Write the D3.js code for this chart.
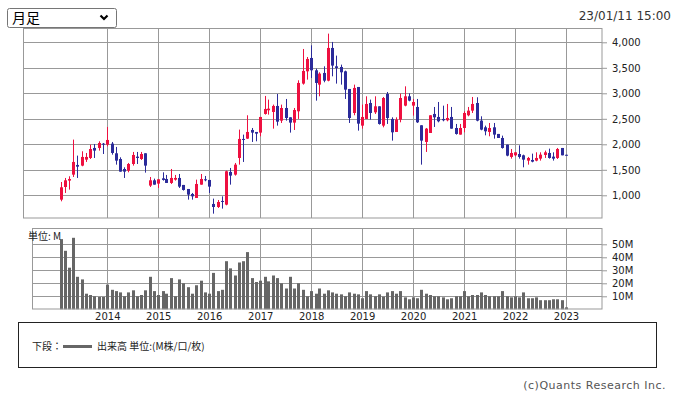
<!DOCTYPE html>
<html>
<head>
<meta charset="utf-8">
<script src="https://cdn.jsdelivr.net/npm/d3@7"></script>
<style>
  body { margin: 0; background: #fff; }
  svg { display: block; }
</style>
</head>
<body>
<svg id="chart" width="678" height="395"></svg>
<script>
// monthly candles, Feb 2013 .. Jan 2023
const months = d3.timeMonth.range(new Date(2013, 1, 1), new Date(2023, 1, 2));

const opens = [915,1163,1288,1405,1595,1582,1699,1732,1928,1928,2013,1993,2013,1824,1712,1516,1484,1614,1758,1712,
  1824,1190,1294,1229,1333,1320,1242,1307,1340,1203,1124,1026,948,1209,1314,1301,830,771,889,817,
  1458,1405,1732,2105,2111,2281,2242,2229,2595,2667,2634,2752,2464,2712,2529,2425,2647,3190,3431,3693,
  3451,3170,3399,3248,3889,3529,3516,3431,3085,2614,3124,2366,2497,2810,2627,2745,2366,2987,2497,2242,
  2484,2758,2941,2758,2732,2373,2046,2222,2595,2536,2497,2471,2536,2320,2190,2320,2569,2660,2810,2464,
  2333,2242,2333,2203,2124,1993,1752,1784,1810,1784,1680,1693,1680,1719,1791,1830,1758,1732,1928,1795];
const highs = [1261,1340,1373,2092,1778,1863,1830,1993,2006,2059,2026,2340,2046,1948,1745,1549,1634,1850,1850,1850,
  1824,1359,1327,1314,1451,1399,1516,1399,1418,1203,1124,1046,1307,1418,1379,1301,935,908,980,1484,
  1536,1634,2288,2190,2569,2320,2242,2536,2948,2876,2778,2987,2778,2889,2529,2712,3255,3869,3712,3941,
  3484,3412,3529,4170,4007,3739,3562,3444,3085,3170,3124,2778,2941,2876,2941,2745,2928,3026,2529,2529,
  2994,3137,3000,2889,2889,2373,2320,2569,2732,2830,2758,2791,2732,2399,2399,2647,2732,2928,2922,2549,
  2366,2418,2418,2203,2170,1993,1908,1843,1980,1797,1752,1817,1843,1843,1876,1915,1843,1928,1928,1795];
const lows = [882,1046,1111,1359,1340,1569,1654,1712,1732,1876,1810,1961,1797,1601,1464,1340,1451,1582,1614,1693,
  1444,1163,1209,1144,1288,1242,1222,1288,1144,1092,915,915,948,1209,1275,1046,640,752,739,804,
  1209,1386,1601,1654,2105,2046,2059,2157,2582,2582,2307,2366,2418,2464,2229,2281,2497,3170,3268,3301,
  2856,2941,3216,3235,3333,3190,3170,2889,2418,2569,2268,2307,2497,2484,2595,2386,2333,2399,2072,2242,
  2431,2745,2843,2562,2418,1601,1850,2222,2340,2431,2451,2451,2307,2190,2190,2235,2549,2614,2451,2275,
  2176,2157,2111,2124,1915,1765,1719,1765,1719,1549,1601,1647,1667,1680,1732,1719,1680,1712,1784,1785];
const closes = [1157,1294,1320,1654,1562,1752,1752,1908,1876,2026,2000,2085,1830,1680,1464,1464,1614,1791,1732,1810,
  1582,1294,1209,1314,1301,1242,1340,1340,1170,1105,1013,980,1222,1320,1301,1170,771,869,876,1471,
  1386,1601,2105,2092,2242,2229,2209,2536,2693,2699,2752,2444,2712,2516,2425,2673,3203,3438,3673,3451,
  3203,3386,3248,3889,3543,3497,3412,3072,2516,3105,2405,2536,2791,2614,2745,2399,2908,2516,2235,2484,
  2908,2941,2856,2830,2431,2072,2307,2569,2529,2451,2471,2516,2307,2203,2320,2614,2660,2791,2464,2288,
  2255,2320,2190,2124,1928,1778,1830,1843,1752,1699,1732,1660,1732,1797,1843,1732,1719,1908,1784,1785];
// volume, millions
const volumes = [54,45,32,55,25,23,12,11,10,9.5,9.5,19,15,14,13,10,13,14.6,10,11,
  14.6,25,14,11,14,12,24,10,23,20,17,12,18.5,22,13,12,28,14,15,37,
  31.5,26,36,37,44,24,21,22,25,21.5,26,24,20,16,25,16,20,15,10,14,
  12,16,12,14.6,13,12,11.5,10,13,12,11.5,8.5,14,11.5,10,11.5,9.7,13,14,12,
  14,9.2,7.7,9.2,8.5,15,12,11,10,10,9.2,7.7,8.5,10,10,14,10,11,11,13,
  11,10,10,10,14,10,9.2,10,9.2,13,8.5,8.5,9.2,7,7,7,7.7,7.7,7,1.5];

const yearTicks = [2014, 2015, 2016, 2017, 2018, 2019, 2020, 2021, 2022, 2023];
const priceTicks = [1000, 1500, 2000, 2500, 3000, 3500, 4000];
const volumeTicks = [10, 20, 30, 40, 50];

const upColor = "#ee1040";
const downColor = "#2b2b9a";
const gridColor = "#999";

const svg = d3.select("#chart");
svg.append("rect").attr("width", 678).attr("height", 395).attr("fill", "#fff");

const main = { left: 23.5, right: 602, top: 28.5, bottom: 218 };
const vol = { left: 32.5, right: 602, top: 228.5, bottom: 309 };

const x = d3.scaleTime()
  .domain([new Date(2014, 0, 1), new Date(2023, 0, 1)])
  .range([107.3, 566]);
const y = d3.scaleLinear().domain([1000, 4000]).range([195.3, 42.3]);
const yVol = d3.scaleLinear().domain([0, 50]).range([309.3, 244.3]);

const candles = months.map((m, i) => ({
  date: m, open: opens[i], high: highs[i], low: lows[i], close: closes[i], volume: volumes[i]
}));

// ---- top controls
const sel = svg.append("g");
sel.append("rect")
  .attr("x", 7.5).attr("y", 8.5).attr("width", 109).attr("height", 19).attr("rx", 2)
  .attr("fill", "#fff").attr("stroke", "#767676");
sel.append("text")
  .attr("x", 12).attr("y", 23)
  .style("font-family", "'Noto Sans CJK JP'").style("font-size", "14px")
  .text("月足");
sel.append("path")
  .attr("d", "M100.5,15.5 L104,19 L107.5,15.5")
  .attr("fill", "none").attr("stroke", "#000").attr("stroke-width", 2.2);

svg.append("text")
  .attr("x", 671).attr("y", 20).attr("text-anchor", "end")
  .style("font-family", "'DejaVu Sans'").style("font-size", "12px").attr("fill", "#333")
  .text("23/01/11 15:00");

// ---- price panel
const pricePanel = svg.append("g");
pricePanel.selectAll(".hgrid")
  .data(priceTicks).enter().append("line")
  .attr("x1", main.left).attr("x2", main.right)
  .attr("y1", d => Math.round(y(d)) + 0.5).attr("y2", d => Math.round(y(d)) + 0.5)
  .attr("stroke", gridColor);
pricePanel.selectAll(".vgrid")
  .data(yearTicks).enter().append("line")
  .attr("x1", d => Math.round(x(new Date(d, 0, 1))) + 0.5)
  .attr("x2", d => Math.round(x(new Date(d, 0, 1))) + 0.5)
  .attr("y1", main.top).attr("y2", main.bottom)
  .attr("stroke", gridColor);
pricePanel.append("rect")
  .attr("x", main.left).attr("y", main.top)
  .attr("width", main.right - main.left).attr("height", main.bottom - main.top)
  .attr("fill", "none").attr("stroke", gridColor);

const priceAxis = svg.append("g")
  .attr("transform", `translate(${main.right},0)`)
  .call(d3.axisRight(y).tickValues(priceTicks).tickFormat(d3.format(",")).tickSize(5).tickPadding(5));
priceAxis.select(".domain").remove();
priceAxis.selectAll("line").attr("stroke", gridColor);
priceAxis.selectAll("text")
  .style("font-family", "'DejaVu Sans'").style("font-size", "10px").attr("fill", "#222");

// candles
const candleG = svg.append("g");
candleG.selectAll(".wick")
  .data(candles).enter().append("line")
  .attr("x1", d => Math.round(x(d.date)) + 0.5)
  .attr("x2", d => Math.round(x(d.date)) + 0.5)
  .attr("y1", d => y(d.high)).attr("y2", d => y(d.low))
  .attr("stroke", d => d.close >= d.open ? upColor : downColor)
  .attr("stroke-width", 1);
candleG.selectAll(".body")
  .data(candles).enter().append("rect")
  .attr("x", d => Math.round(x(d.date)) - 1)
  .attr("width", 3)
  .attr("y", d => y(Math.max(d.open, d.close)))
  .attr("height", d => Math.max(1, Math.abs(y(d.open) - y(d.close))))
  .attr("fill", d => d.close >= d.open ? upColor : downColor);

// ---- volume panel
const volPanel = svg.append("g");
volPanel.selectAll(".hgrid")
  .data(volumeTicks).enter().append("line")
  .attr("x1", vol.left).attr("x2", vol.right)
  .attr("y1", d => Math.round(yVol(d)) + 0.5).attr("y2", d => Math.round(yVol(d)) + 0.5)
  .attr("stroke", gridColor);
volPanel.selectAll(".vgrid")
  .data(yearTicks).enter().append("line")
  .attr("x1", d => Math.round(x(new Date(d, 0, 1))) + 0.5)
  .attr("x2", d => Math.round(x(new Date(d, 0, 1))) + 0.5)
  .attr("y1", vol.top).attr("y2", vol.bottom)
  .attr("stroke", gridColor);

volPanel.selectAll(".bar")
  .data(candles).enter().append("rect")
  .attr("x", d => Math.round(x(d.date)) - 1)
  .attr("width", 3)
  .attr("y", d => yVol(d.volume))
  .attr("height", d => yVol(0) - yVol(d.volume))
  .attr("fill", "#666");

volPanel.append("rect")
  .attr("x", vol.left).attr("y", vol.top)
  .attr("width", vol.right - vol.left).attr("height", vol.bottom - vol.top)
  .attr("fill", "none").attr("stroke", gridColor);

volPanel.append("text")
  .attr("x", 28).attr("y", 240)
  .style("font-family", "'Noto Sans CJK JP'").style("font-size", "10px").attr("fill", "#222")
  .text("単位: M");

const volAxis = svg.append("g")
  .attr("transform", `translate(${vol.right},0)`)
  .call(d3.axisRight(yVol).tickValues(volumeTicks).tickFormat(d => d + "M").tickSize(5).tickPadding(5));
volAxis.select(".domain").remove();
volAxis.selectAll("line").attr("stroke", gridColor);
volAxis.selectAll("text")
  .style("font-family", "'DejaVu Sans'").style("font-size", "10px").attr("fill", "#222");

// year labels
const xAxis = svg.append("g")
  .attr("transform", `translate(0,${vol.bottom})`)
  .call(d3.axisBottom(x).tickValues(yearTicks.map(d => new Date(d, 0, 1)))
    .tickFormat(d3.timeFormat("%Y")).tickSize(0).tickPadding(4));
xAxis.select(".domain").remove();
xAxis.selectAll("text")
  .style("font-family", "'DejaVu Sans'").style("font-size", "10px").attr("fill", "#222");

// ---- legend box
const legend = svg.append("g");
legend.append("rect")
  .attr("x", 18.5).attr("y", 322.5).attr("width", 638).attr("height", 45)
  .attr("fill", "#fff").attr("stroke", "#222");
legend.append("text")
  .attr("x", 32).attr("y", 350)
  .style("font-family", "'Noto Sans CJK JP'").style("font-size", "10px").attr("fill", "#222")
  .text("下段：");
legend.append("line")
  .attr("x1", 63).attr("x2", 92).attr("y1", 346.5).attr("y2", 346.5)
  .attr("stroke", "#666").attr("stroke-width", 3);
legend.append("text")
  .attr("x", 97).attr("y", 350)
  .style("font-family", "'Noto Sans CJK JP'").style("font-size", "10px").attr("fill", "#222")
  .text("出来高 単位:(M株/口/枚)");

svg.append("text")
  .attr("x", 666).attr("y", 389).attr("text-anchor", "end")
  .style("font-family", "'DejaVu Sans'").style("font-size", "11px")
  .style("letter-spacing", "0.5px").attr("fill", "#555")
  .text("(c)Quants Research Inc.");
</script>
</body>
</html>
